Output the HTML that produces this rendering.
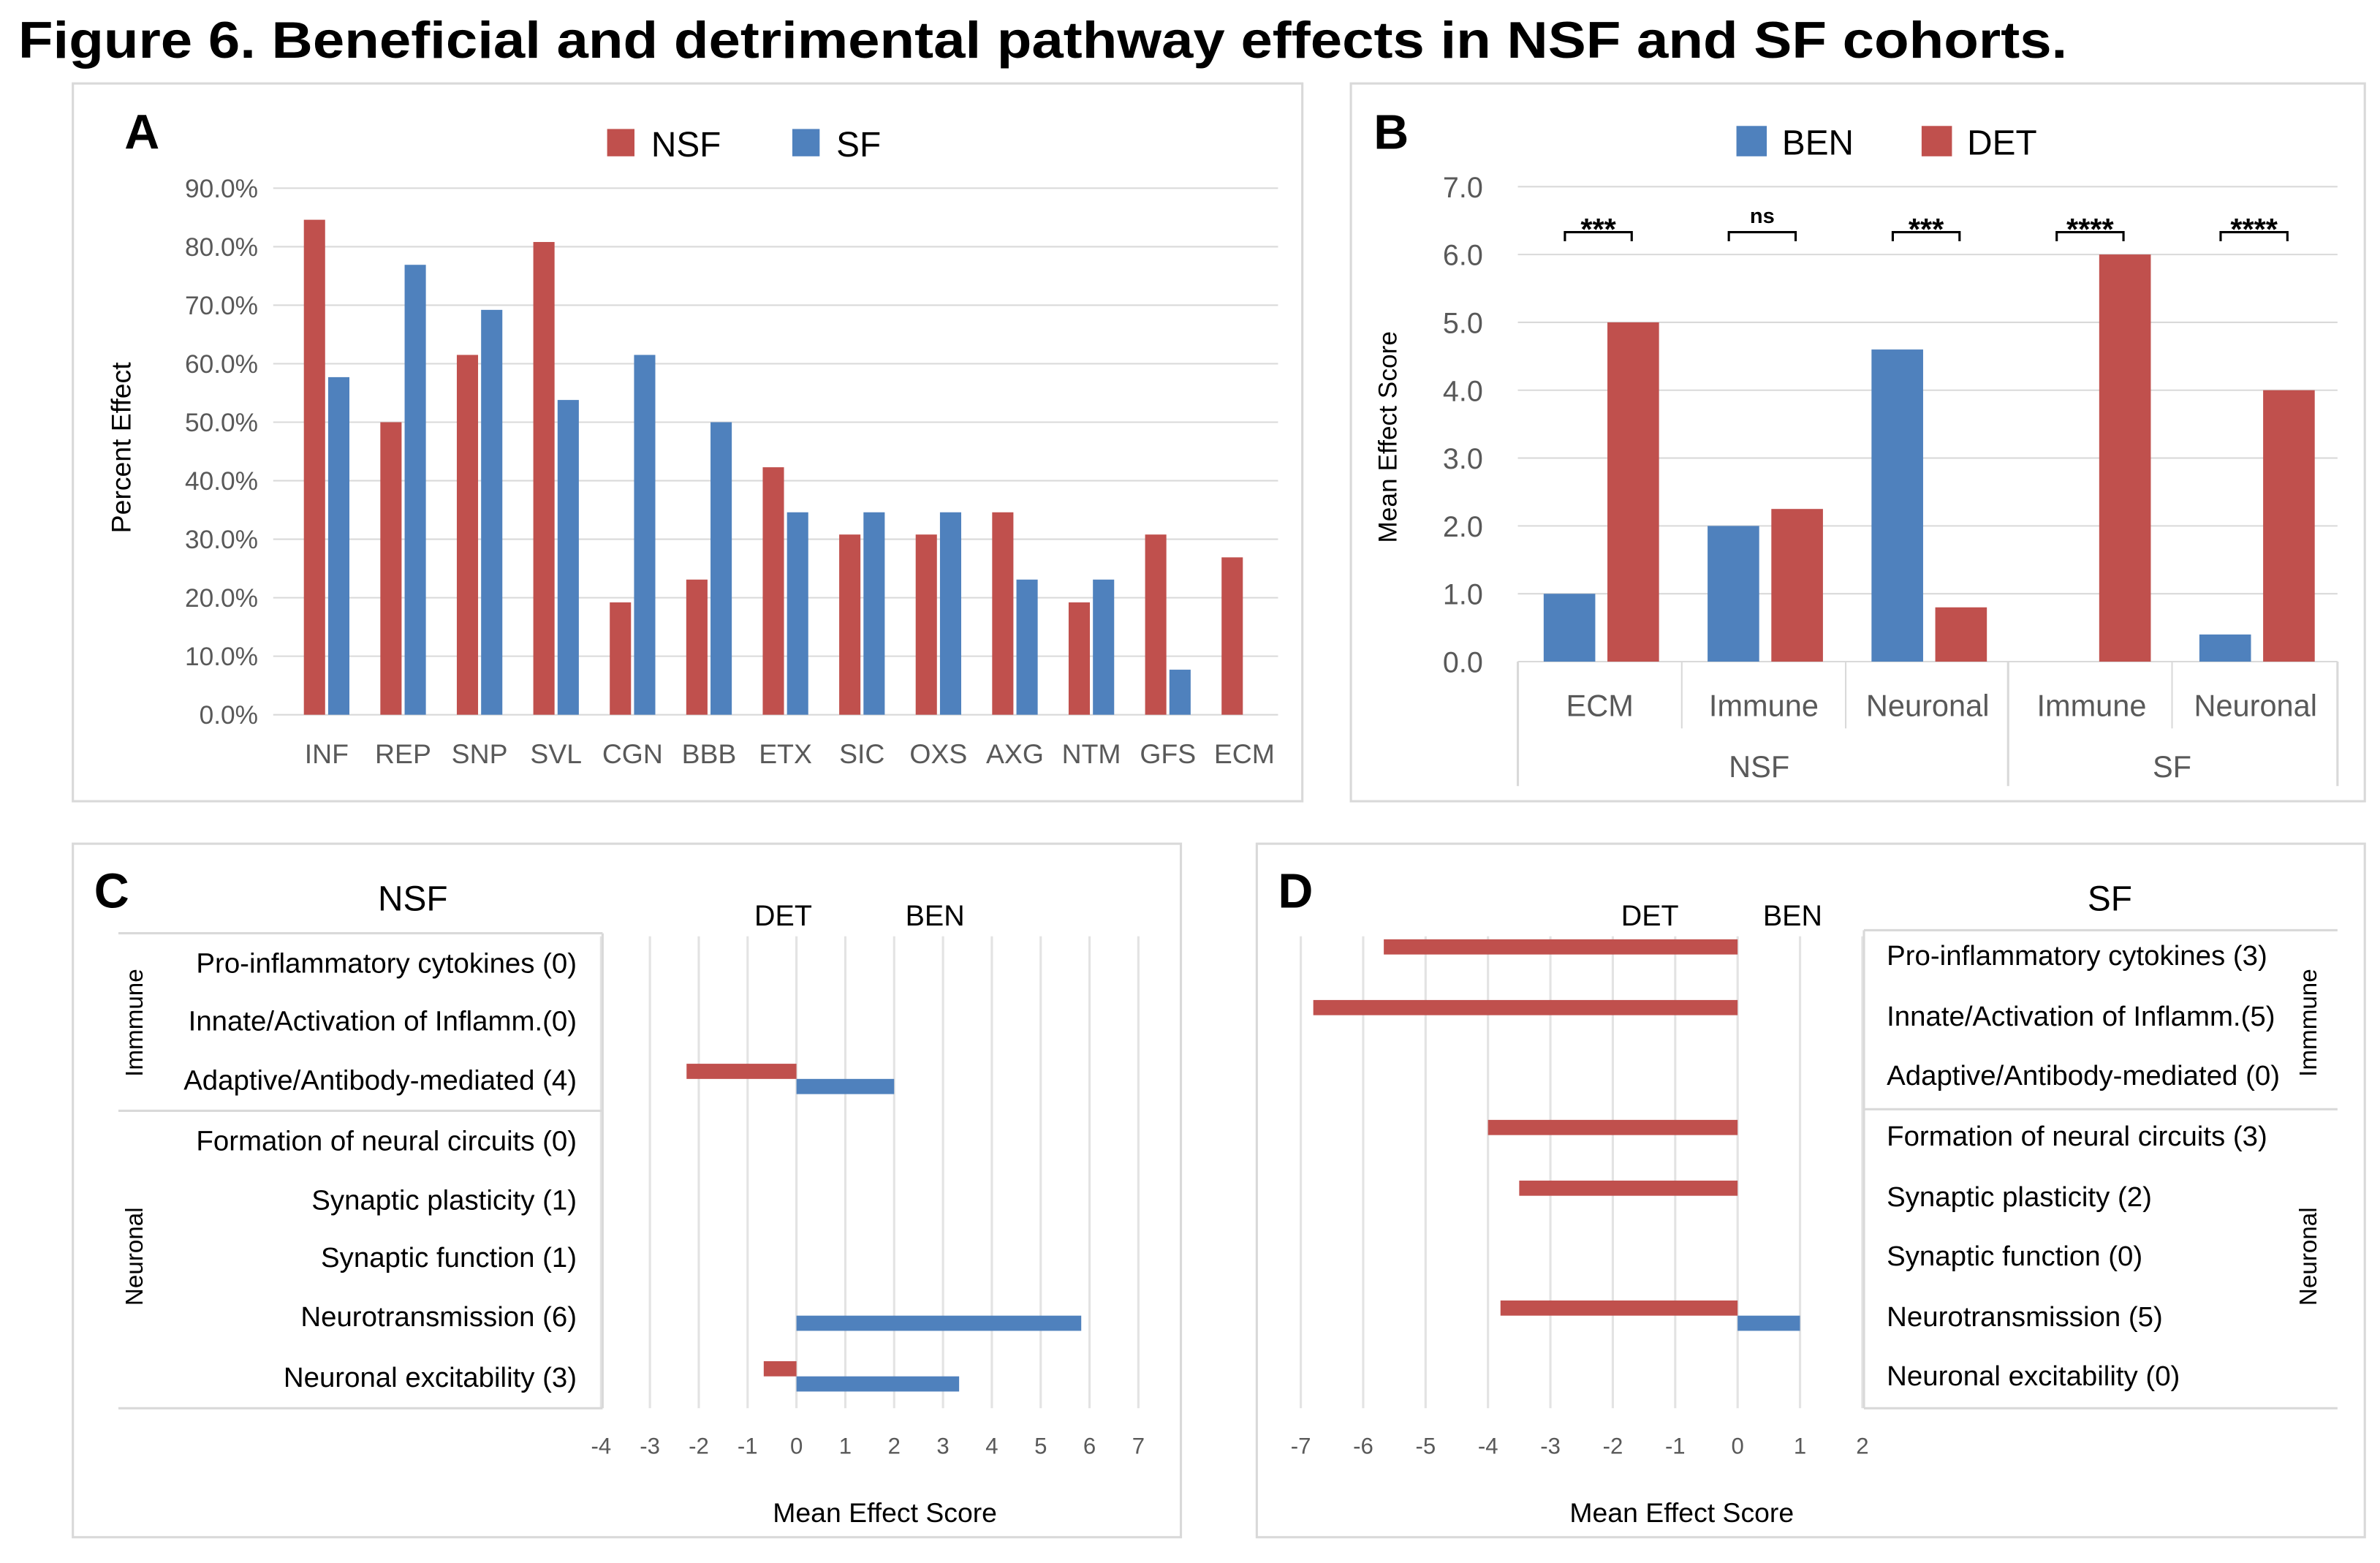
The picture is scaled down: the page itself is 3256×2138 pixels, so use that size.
<!DOCTYPE html>
<html><head><meta charset="utf-8"><style>
html,body{margin:0;padding:0;background:#fff}
svg{display:block;font-family:"Liberation Sans",Arial,sans-serif}
</style></head><body>
<svg id="fig" width="3256" height="2138" viewBox="0 0 1568 1030" preserveAspectRatio="none" xmlns="http://www.w3.org/2000/svg">
<text x="12" y="38" font-size="34" font-weight="bold" fill="#000" textLength="1350" lengthAdjust="spacingAndGlyphs">Figure 6. Beneficial and detrimental pathway effects in NSF and SF cohorts.</text>
<rect x="48" y="55" width="810" height="473" fill="none" stroke="#d9d9d9" stroke-width="1.5"/>
<rect x="890" y="55" width="668" height="473" fill="none" stroke="#d9d9d9" stroke-width="1.5"/>
<rect x="48" y="556" width="730" height="457" fill="none" stroke="#d9d9d9" stroke-width="1.5"/>
<rect x="828" y="556" width="730" height="457" fill="none" stroke="#d9d9d9" stroke-width="1.5"/>
<g id="A"></g>
<g id="B"></g>
<g id="C"></g>
<g id="D"></g>
</svg>
<script>
const RED="#c0504d", BLUE="#4f81bd", GRID="#d9d9d9", TXT="#595959";
// Panel A data
const aCats=["INF","REP","SNP","SVL","CGN","BBB","ETX","SIC","OXS","AXG","NTM","GFS","ECM"];
const aNSF=[84.6,50,61.5,80.8,19.2,23.1,42.3,30.8,30.8,34.6,19.2,30.8,26.9];
const aSF=[57.7,76.9,69.2,53.8,61.5,50,34.6,34.6,34.6,23.1,23.1,7.7,0];
const aTicks=[0,10,20,30,40,50,60,70,80,90];
// Panel B data
const bCats=["ECM","Immune","Neuronal","Immune","Neuronal"];
const bGroups=["NSF","SF"];
const bBEN=[1,2,4.6,0,0.4];
const bDET=[5,2.25,0.8,6,4];
const bSig=["***","ns","***","****","****"];
const bTicks=[0,1,2,3,4,5,6,7];
// Panel C data
const cRows=["Pro-inflammatory cytokines (0)","Innate/Activation of Inflamm.(0)","Adaptive/Antibody-mediated (4)","Formation of neural circuits (0)","Synaptic plasticity (1)","Synaptic function (1)","Neurotransmission (6)","Neuronal excitability (3)"];
const cDET=[0,0,-2.25,0,0,0,0,-0.67];
const cBEN=[0,0,2,0,0,0,5.83,3.33];
const cTicks=[-4,-3,-2,-1,0,1,2,3,4,5,6,7];
// Panel D data
const dRows=["Pro-inflammatory cytokines (3)","Innate/Activation of Inflamm.(5)","Adaptive/Antibody-mediated (0)","Formation of neural circuits (3)","Synaptic plasticity (2)","Synaptic function (0)","Neurotransmission (5)","Neuronal excitability (0)"];
const dDET=[-5.67,-6.8,0,-4,-3.5,0,-3.8,0];
const dBEN=[0,0,0,0,0,0,1,0];
const dTicks=[-7,-6,-5,-4,-3,-2,-1,0,1,2];

const NS="http://www.w3.org/2000/svg";
function mk(p,tag,at,txt){const e=document.createElementNS(NS,tag);for(const k in at)e.setAttribute(k,at[k]);if(txt!==undefined)e.textContent=txt;p.appendChild(e);return e;}

// ---------- Panel A ----------
(function(){
const g=document.getElementById('A');
const y=v=>471-v*(471-124)/90;
const x0=190, bw=(845-190)/13;
aTicks.forEach(t=>{
 const l=mk(g,'line',{x1:180,x2:842,y1:y(t),y2:y(t),stroke:GRID,'stroke-width':1});
 
 const tx=mk(g,'text',{x:170,y:y(t)+6,'font-size':17,fill:TXT,'text-anchor':'end'},t.toFixed(1)+'%');
 
});
aCats.forEach((c,i)=>{
 const cx=x0+bw*(i+0.5);
 const r1=mk(g,'rect',{x:cx-15,y:y(aNSF[i]),width:14,height:y(0)-y(aNSF[i]),fill:RED});
 
 const r2=mk(g,'rect',{x:cx+1,y:y(aSF[i]),width:14,height:y(0)-y(aSF[i]),fill:BLUE});
 
 const tx=mk(g,'text',{x:cx,y:503,'font-size':18,fill:TXT,'text-anchor':'middle'},c);
 
});
const ti=mk(g,'text',{x:86,y:295,'font-size':18,fill:'#000','text-anchor':'middle',transform:'rotate(-90 86 295)'},'Percent Effect');

const lbl=mk(g,'text',{x:82,y:98,'font-size':32,'font-weight':'bold'},'A');

const l1=mk(g,'rect',{x:400,y:85,width:18,height:18,fill:RED});
const l2=mk(g,'text',{x:429,y:103,'font-size':23,fill:'#000'},'NSF');
const l3=mk(g,'rect',{x:522,y:85,width:18,height:18,fill:BLUE});
const l4=mk(g,'text',{x:551,y:103,'font-size':23,fill:'#000'},'SF');
})();

// ---------- Panel B ----------
(function(){
const g=document.getElementById('B');
const y=v=>436-v*(436-123)/7;
const x0=1000, bw=(1540-1000)/5;
bTicks.forEach(t=>{
 const l=mk(g,'line',{x1:1000,x2:1540,y1:y(t),y2:y(t),stroke:GRID,'stroke-width':1});
 
 const tx=mk(g,'text',{x:977,y:y(t)+7,'font-size':19,fill:TXT,'text-anchor':'end'},t.toFixed(1));
 
});
[1000,1323,1540].forEach(xx=>{const l=mk(g,'line',{x1:xx,x2:xx,y1:436,y2:518,stroke:GRID,'stroke-width':1.5});});
[1108,1216,1431].forEach(xx=>{const l=mk(g,'line',{x1:xx,x2:xx,y1:436,y2:480,stroke:GRID,'stroke-width':1});});
bCats.forEach((c,i)=>{
 const cx=x0+bw*(i+0.5);
 if(bBEN[i]>0){const r=mk(g,'rect',{x:cx-37,y:y(bBEN[i]),width:34,height:y(0)-y(bBEN[i]),fill:BLUE});}
 if(bDET[i]>0){const r=mk(g,'rect',{x:cx+5,y:y(bDET[i]),width:34,height:y(0)-y(bDET[i]),fill:RED});}
 const tx=mk(g,'text',{x:cx,y:472,'font-size':20,fill:TXT,'text-anchor':'middle'},c);
 
 const br=mk(g,'path',{d:`M${cx-23} 159 V153 H${cx+21} V159`,fill:'none',stroke:'#000','stroke-width':1.5});
 
 const s=mk(g,'text',{x:cx-1,y:bSig[i]==='ns'?147:158,'font-size':bSig[i]==='ns'?14:20,'font-weight':'bold','text-anchor':'middle'},bSig[i]);
 
});
const g1=mk(g,'text',{x:1159,y:512,'font-size':20,fill:TXT,'text-anchor':'middle'},bGroups[0]);
const g2=mk(g,'text',{x:1431,y:512,'font-size':20,fill:TXT,'text-anchor':'middle'},bGroups[1]);
const ti=mk(g,'text',{x:920,y:288,'font-size':17,fill:'#000','text-anchor':'middle',transform:'rotate(-90 920 288)'},'Mean Effect Score');

const lbl=mk(g,'text',{x:905,y:98,'font-size':32,'font-weight':'bold'},'B');
const l1=mk(g,'rect',{x:1144,y:83,width:20,height:20,fill:BLUE});
const l2=mk(g,'text',{x:1174,y:102,'font-size':23},'BEN');
const l3=mk(g,'rect',{x:1266,y:83,width:20,height:20,fill:RED});
const l4=mk(g,'text',{x:1296,y:102,'font-size':23},'DET');
})();

// ---------- Horizontal panels ----------
function hpanel(id,rows,det,ben,ticks,xmin,xmax,px0,px1,rowY,tbl,labelRight,letter,title){
 const g=document.getElementById(id);
 const x=v=>px0+(v-xmin)*(px1-px0)/(xmax-xmin);
 ticks.forEach(t=>{
  const l=mk(g,'line',{x1:x(t),x2:x(t),y1:617,y2:928,stroke:'#e3e3e3','stroke-width':1.5});
  
  const tx=mk(g,'text',{x:x(t),y:958,'font-size':15,fill:TXT,'text-anchor':'middle'},String(t));
  
 });
 rows.forEach((r,i)=>{
  const cy=rowY[i];
  if(det[i]<0){const b=mk(g,'rect',{x:x(det[i]),y:cy-11,width:x(0)-x(det[i]),height:10,fill:RED});}
  if(ben[i]>0){const b=mk(g,'rect',{x:x(0),y:cy-1,width:x(ben[i])-x(0),height:10,fill:BLUE});}
  const tx=mk(g,'text',{x:tbl.tx,y:cy+6,'font-size':18.5,fill:'#000','text-anchor':labelRight?'end':'start'},r);
  
 });
 tbl.lines.forEach(yy=>{const l=mk(g,'line',{x1:tbl.x1,x2:tbl.x2,y1:yy,y2:yy,stroke:GRID,'stroke-width':1.5});});
 const v=mk(g,'line',{x1:tbl.vx,x2:tbl.vx,y1:tbl.lines[0],y2:tbl.lines[2],stroke:GRID,'stroke-width':1.5});
 const d=mk(g,'text',{x:tbl.detX,y:610,'font-size':19,'text-anchor':'middle'},'DET');
 const bn=mk(g,'text',{x:tbl.benX,y:610,'font-size':19,'text-anchor':'middle'},'BEN');
 const at=mk(g,'text',{x:tbl.axisX,y:1003,'font-size':18,'text-anchor':'middle'},'Mean Effect Score');
 const lt=mk(g,'text',{x:tbl.letterX,y:598,'font-size':32,'font-weight':'bold'},letter);
 const tt=mk(g,'text',{x:tbl.titleX,y:600,'font-size':23,'text-anchor':'middle'},title);
 const im=mk(g,'text',{x:tbl.gx,y:674,'font-size':16,'text-anchor':'middle',transform:`rotate(-90 ${tbl.gx} 674)`},'Immmune');
 const ne=mk(g,'text',{x:tbl.gx,y:828,'font-size':16,'text-anchor':'middle',transform:`rotate(-90 ${tbl.gx} 828)`},'Neuronal');
}
hpanel('C',cRows,cDET,cBEN,cTicks,-4,7,396,750,[635,673,712,752,791,829,868,908],
 {tx:380,x1:78,x2:397,vx:397,lines:[615,732,928],axisX:583,letterX:62,titleX:272,gx:94,detX:516,benX:616},true,'C','NSF');
hpanel('D',dRows,dDET,dBEN,dTicks,-7,2,857,1227,[630,670,709,749,789,828,868,907],
 {tx:1243,x1:1228,x2:1540,vx:1228,lines:[613,731,928],axisX:1108,letterX:842,titleX:1390,gx:1526,detX:1087,benX:1181},false,'D','SF');
</script>
</body></html>
